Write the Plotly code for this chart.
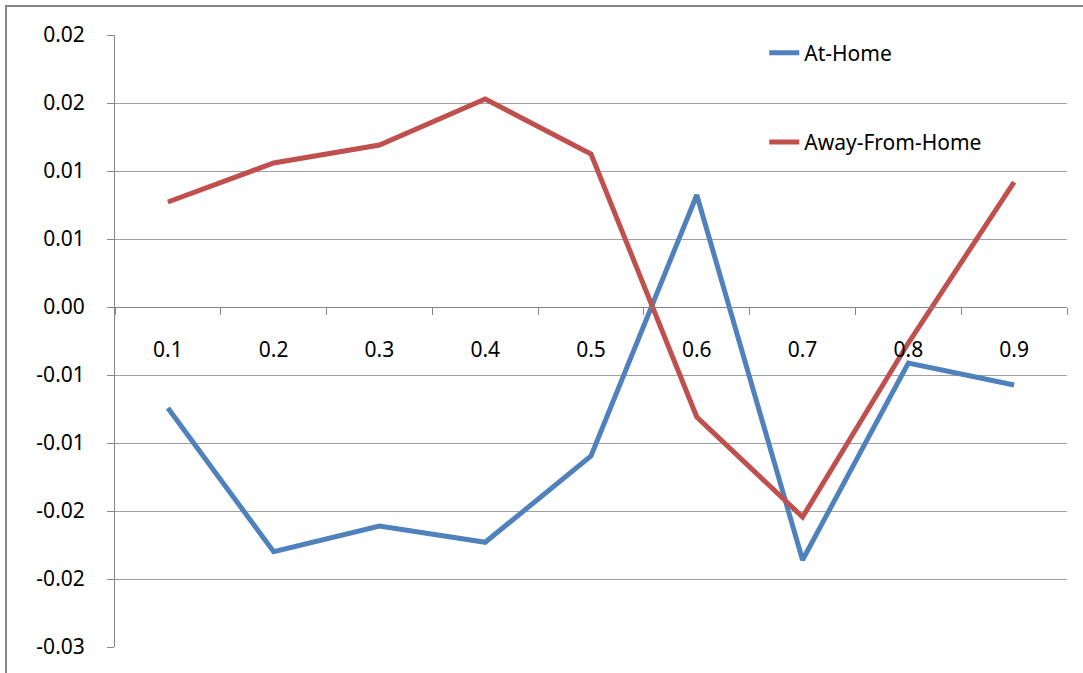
import plotly.graph_objects as go

categories = ["0.1", "0.2", "0.3", "0.4", "0.5", "0.6", "0.7", "0.8", "0.9"]
at_home = [-0.00743, -0.0180, -0.0161, -0.0173, -0.01096, 0.00824, -0.0186, -0.00412, -0.00574]
away_from_home = [0.00772, 0.01059, 0.01191, 0.01529, 0.01125, -0.00809, -0.01544, -0.00265, 0.00919]
y_tick_vals = [0.02, 0.015, 0.01, 0.005, 0.0, -0.005, -0.01, -0.015, -0.02, -0.025]
y_tick_text = ["0.02", "0.02", "0.01", "0.01", "0.00", "-0.01", "-0.01", "-0.02", "-0.02", "-0.03"]

FONT = "Noto Sans"
FS = 21
y_min, y_max = -0.025, 0.02

fig = go.Figure()
fig.add_trace(go.Scatter(x=categories, y=at_home, mode="lines", name="At-Home",
                         line=dict(color="#4F81BD", width=5), legendgroup="a"))
fig.add_trace(go.Scatter(x=categories, y=away_from_home, mode="lines", name="Away-From-Home",
                         line=dict(color="#C0504D", width=5), legendgroup="b"))

fig.update_layout(
    width=1083, height=673,
    margin=dict(l=115, r=16, t=35, b=26),
    paper_bgcolor="white", plot_bgcolor="white",
    font=dict(family=FONT, size=FS, color="black"),
    showlegend=True,
    legend=dict(x=0.682, y=1.004, xanchor="left", yanchor="top",
                bgcolor="rgba(0,0,0,0)", tracegroupgap=59,
                font=dict(family=FONT, size=FS)),
    xaxis=dict(type="category", range=[-0.5, 8.5], anchor="free",
               position=(0 - y_min) / (y_max - y_min),
               showline=True, linecolor="#868686", linewidth=1,
               ticks="outside", ticklen=7, tickcolor="#868686", tickson="boundaries",
               showgrid=False, zeroline=False, ticklabelstandoff=24,
               tickfont=dict(family=FONT, size=FS)),
    yaxis=dict(range=[y_min, y_max], tickvals=y_tick_vals, ticktext=y_tick_text,
               showline=True, linecolor="#868686", linewidth=1,
               ticks="outside", ticklen=7, tickcolor="#868686",
               showgrid=True, gridcolor="#A0A0A0", gridwidth=1,
               zeroline=False, ticklabelstandoff=18,
               tickfont=dict(family=FONT, size=FS)),
    shapes=[dict(type="rect", xref="paper", yref="paper",
                 x0=(6 - 115) / 952, x1=1.2, y0=-0.2, y1=1 + (35 - 6) / 612,
                 line=dict(color="#868686", width=2), fillcolor="rgba(0,0,0,0)", layer="below")],
)

fig.write_html("out.html", config={"displayModeBar": False},
               post_script="document.body.style.margin='0';")
